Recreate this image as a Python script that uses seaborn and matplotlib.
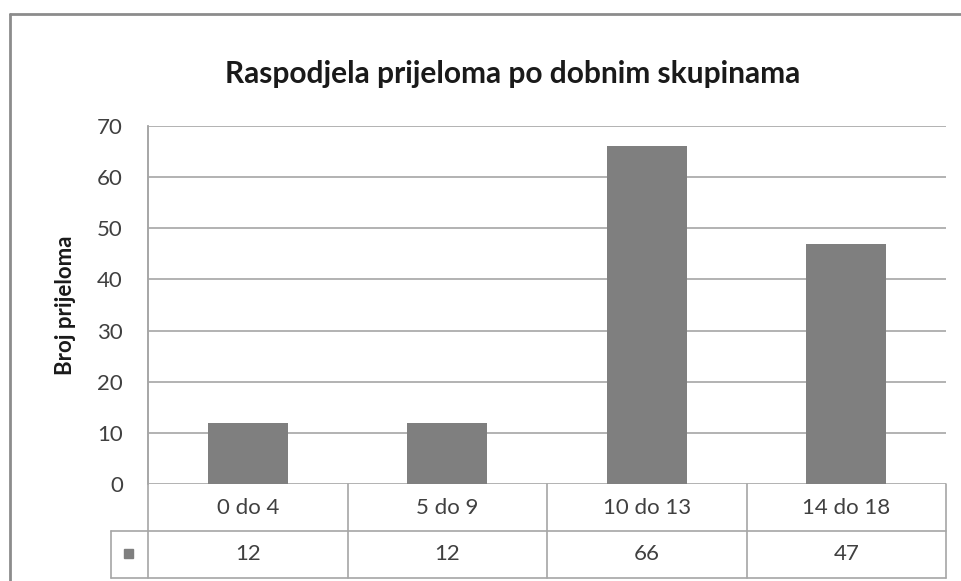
import matplotlib
matplotlib.use('Agg')
import matplotlib.pyplot as plt
import seaborn as sns
import pandas as pd
from matplotlib.lines import Line2D
from matplotlib.patches import Rectangle

# data
categories = ['0 do 4', '5 do 9', '10 do 13', '14 do 18']
counts = [12, 12, 66, 47]
y_ticks = [0, 10, 20, 30, 40, 50, 60, 70]

title = 'Raspodjela prijeloma po dobnim skupinama'
y_label = 'Broj prijeloma'
bar_color = '#7f7f7f'
grid_color = '#a6a6a6'

sns.set_style('white')
plt.rcParams['font.family'] = ['Lato', 'DejaVu Sans']

W, H = 961, 581
fig = plt.figure(figsize=(W / 100, H / 100), dpi=100)

# plot area in pixel coordinates
left, right, top, bottom = 148, 946, 126, 484
row_h = 47

def fx(px):
    return px / W

def fy(py):
    return 1 - py / H

ax = fig.add_axes([fx(left), fy(bottom), fx(right) - fx(left), fy(top) - fy(bottom)])

df = pd.DataFrame({'group': categories, 'count': counts})
sns.barplot(ax=ax, data=df, x='group', y='count', color=bar_color, width=0.4,
            saturation=1, edgecolor='none')

ax.set_ylim(0, 70)
ax.set_xlim(-0.5, len(categories) - 0.5)
ax.set_yticks(y_ticks)
ax.set_yticklabels([str(v) for v in y_ticks], fontsize=16, color='#404040')
ax.tick_params(axis='y', length=0, pad=18)
ax.set_xticks([])
ax.set_xlabel('')
ax.set_ylabel('')
for v in y_ticks:
    ax.axhline(v, color=grid_color, lw=1.2, zorder=0)
for s in ['top', 'right', 'bottom']:
    ax.spines[s].set_visible(False)
ax.spines['left'].set_color(grid_color)
ax.spines['left'].set_linewidth(1.2)

fig.text(fx(65), fy(305), y_label, rotation=90, ha='center', va='center',
         fontsize=16, fontweight='bold', color='#1a1a1a')
fig.text(fx(513), fy(74), title, ha='center', va='center',
         fontsize=21.5, fontweight='bold', color='#1a1a1a')

# data table under the plot
lines = []
col_w = (right - left) / len(categories)
key_left = 111
row1 = bottom + row_h
row2 = bottom + 2 * row_h
lines.append(((left, left), (top, row2)))
lines.append(((key_left, right), (row1, row1)))
lines.append(((key_left, right), (row2, row2)))
lines.append(((key_left, key_left), (row1, row2)))
for i in range(1, len(categories) + 1):
    xb = left + i * col_w
    lines.append(((xb, xb), (bottom, row2)))
for xs, ys in lines:
    fig.add_artist(Line2D([fx(x) for x in xs], [fy(y) for y in ys],
                          color=grid_color, lw=1.2))

for i, (cat, val) in enumerate(zip(categories, counts)):
    cx = left + (i + 0.5) * col_w
    fig.text(fx(cx), fy(bottom + row_h / 2), cat, ha='center', va='center',
             fontsize=16, color='#404040')
    fig.text(fx(cx), fy(row1 + row_h / 2), str(val), ha='center', va='center',
             fontsize=16, color='#404040')

# legend key
fig.add_artist(Rectangle((fx(124), fy(558)), fx(9), 9 / H, color=bar_color,
                         transform=fig.transFigure))

# outer chart border (runs off the right and bottom edge)
fig.add_artist(Line2D([fx(10), fx(10)], [fy(14), 0], color='#8c8c8c', lw=2))
fig.add_artist(Line2D([fx(10), 1], [fy(14), fy(14)], color='#8c8c8c', lw=2))

fig.savefig('out.png', dpi=100)
